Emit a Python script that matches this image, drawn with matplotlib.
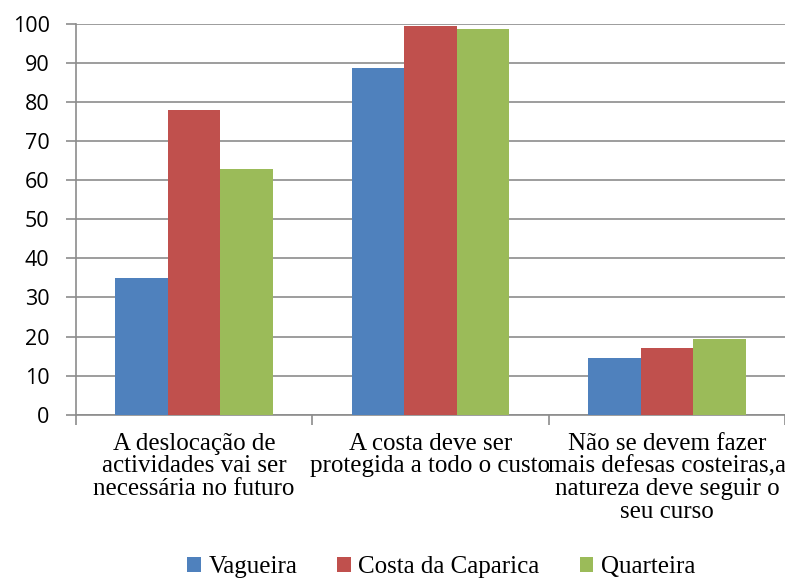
import matplotlib
matplotlib.use('Agg')
import matplotlib.pyplot as plt
import numpy as np

categories = ["A deslocação de\nactividades vai ser\nnecessária no futuro",
              "A costa deve ser\nprotegida a todo o custo",
              "Não se devem fazer\nmais defesas costeiras,a\nnatureza deve seguir o\nseu curso"]
series = ["Vagueira", "Costa da Caparica", "Quarteira"]
vagueira = [35, 88.7, 14.4]
caparica = [78, 99.5, 17]
quarteira = [63, 98.6, 19.4]
colors = ["#4F81BD", "#C0504D", "#9BBB59"]

fig = plt.figure(figsize=(7.85, 5.83), dpi=100)
ax = fig.add_axes([0.0968, 0.2887, 0.9032, 0.6701])

x = np.arange(len(categories))
w = 1 / 4.5
for i, (vals, name) in enumerate(zip([vagueira, caparica, quarteira], series)):
    ax.bar(x + (i - 1) * w, vals, w, color=colors[i], label=name, zorder=3)

ax.set_xlim(-0.5, len(categories) - 0.5)
ax.set_ylim(0, 100)
ax.set_yticks(range(0, 101, 10))
ax.yaxis.grid(True, color='#8c8c8c', linewidth=1.2, zorder=0)
ax.set_axisbelow(True)

for s in ['top', 'right']:
    ax.spines[s].set_visible(False)
for s in ['left', 'bottom']:
    ax.spines[s].set_color('#8c8c8c')
    ax.spines[s].set_linewidth(1.2)

ax.tick_params(axis='y', length=7, width=1.2, color='#8c8c8c', pad=12,
               labelsize=15.5)
for lab in ax.get_yticklabels():
    lab.set_family('Open Sans')

ax.set_xticks(np.arange(-0.5, len(categories)), minor=False)
ax.set_xticklabels([])
ax.tick_params(axis='x', which='major', length=7, width=1.2, color='#8c8c8c')
ax.set_xticks(x, minor=True)
ax.set_xticklabels(categories, minor=True, family='Liberation Serif',
                   fontsize=18, linespacing=1.04)
ax.tick_params(axis='x', which='minor', length=0, pad=13)

fig.legend(loc='lower center', bbox_to_anchor=(0.562, -0.03), ncol=3,
           frameon=False, prop={'family': 'Liberation Serif', 'size': 18},
           handlelength=0.55, handleheight=0.55, handletextpad=0.3,
           columnspacing=1.6)

fig.savefig('out.png', dpi=100)
